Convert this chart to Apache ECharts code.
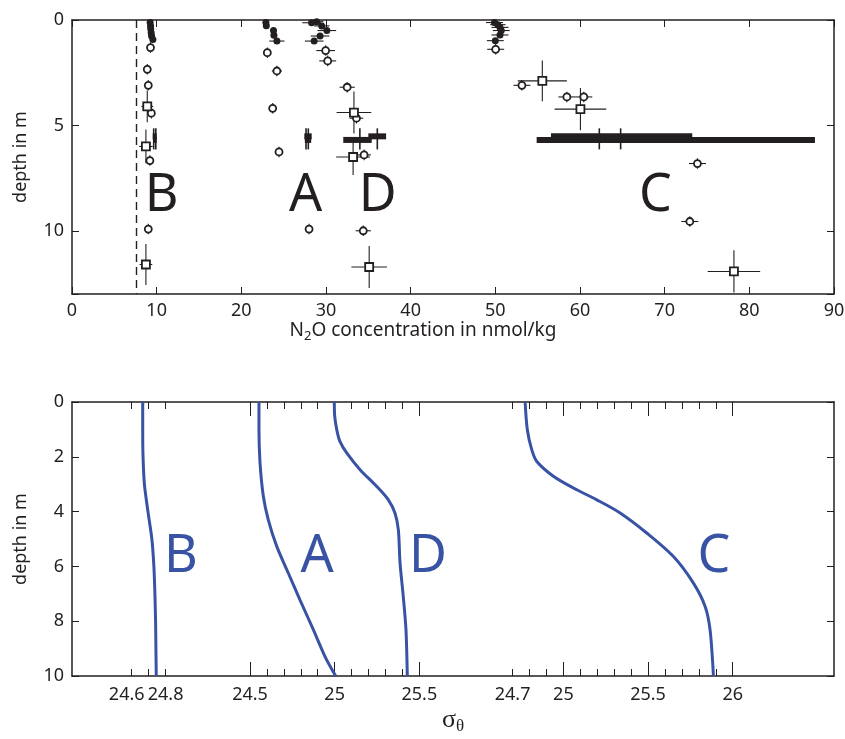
<!DOCTYPE html>
<html><head><meta charset="utf-8">
<script src="https://cdn.jsdelivr.net/npm/echarts@6/dist/echarts.min.js"></script>
<style>html,body{margin:0;padding:0;background:#fff}#c{width:845px;height:739px}</style>
</head><body><div id="c"></div>
<script>
// ================= TOP PANEL DATA (N2O, nmol/kg vs depth m) =================
const detectionLimit = 7.6;
const topXRange = [0,90], topXStep = 10;
const topDepthRange = [0,13], topDepthStep = 5;
// filled dots: surface samples
const dotX     = [9.23,9.28,9.3,9.35,9.4,9.55, 22.9,22.95,23.8,23.85,24.2, 28.3,28.9,29.5,30.1,29.3,28.6, 49.9,50.3,50.55,50.7,50.55,50.0];
const dotDepth = [0.12,0.28,0.43,0.6,0.76,0.93, 0.12,0.27,0.5,0.72,1.0, 0.13,0.08,0.28,0.5,0.76,1.0, 0.12,0.22,0.35,0.5,0.71,0.98];
const dotXErr  = [0.2,0.2,0.2,0.2,0.2,0.2, 0.3,0.3,0.3,0.3,0.9, 1.1,0.8,0.9,1.1,1.1,1.1, 1.0,0.9,1.0,1.0,1.0,1.0];
// open circles
const circX     = [9.27,8.89,9.01,9.37,9.2,9.01, 23.07,24.2,23.7,24.45,28.0, 29.96,30.2, 32.5,33.6,34.5,34.4, 50.04,53.14,58.45,60.45,73.87,72.97];
const circDepth = [1.31,2.34,3.1,4.42,6.67,9.92, 1.55,2.42,4.19,6.26,9.92, 1.45,1.94, 3.19,4.66,6.4,10.0, 1.39,3.1,3.65,3.65,6.81,9.56];
const circXErr  = [0.3,0.3,0.3,0.3,0.3,0.3, 0.3,0.6,0.3,0.3,0.3, 1.1,1.0, 0.9,0.8,0.8,0.9, 1.0,1.0,1.0,1.0,1.0,1.0];
const circYErr  = [0.25,0.25,0.25,0.25,0.25,0.25, 0.25,0.25,0.25,0.25,0.25, 0.25,0.25, 0.25,0.25,0.25,0.25, 0.25,0.25,0.25,0.25,0.25,0.25];
// open squares
const sqX     = [8.89,8.73,8.73, 33.3,33.2,35.1, 55.55,60.05,78.18];
const sqDepth = [4.1,6.0,11.6, 4.39,6.5,11.72, 2.89,4.23,11.93];
const sqXErr  = [0.7,0.8,0.75, 2.05,2.0,2.1, 2.9,3.05,3.1];
const sqYErr  = [0.75,0.8,0.97, 1.0,0.85,1.0, 0.97,1.0,1.0];
// continuous-measurement range bars
const barX1    = [9.53,9.6, 27.44,27.5, 35.0,32.04, 56.57,54.88];
const barX2    = [10.0,10.0, 28.31,28.25, 37.1,35.4, 73.26,87.75];
const barDepth = [5.52,5.69, 5.52,5.69, 5.52,5.69, 5.52,5.69];
const barMark  = [9.65,9.9, 27.64,27.91, 36.06,34.0, 64.8,62.28];
const barMarkDepth = 5.64, barMarkHalf = 0.5;
// station letters (top)
const stationNames = ['B','A','D','C'];
const topLetterX = [10.6,27.6,36.1,68.9];
const topLetterDepth = [8.35,8.35,8.35,8.35];

// ================= BOTTOM PANEL DATA (sigma-theta profiles) =================
const bottomDepthRange = [0,10], bottomDepthStep = 2;
const depthB = [0,1,2,3,4,5,6,7,8,9,10];
const sigmaB = [24.665,24.665,24.667,24.675,24.696,24.719,24.731,24.737,24.741,24.743,24.745];
const depthA = [0,1.0,2.2,3.45,4.3,5.27,6.24,7.22,8.31,9.29,10];
const sigmaA = [24.553,24.553,24.559,24.579,24.608,24.658,24.726,24.795,24.874,24.943,25.006];
const depthD = [0,0.5,1.0,1.44,1.86,2.47,3.08,3.57,4.05,4.66,5.87,7.09,8.3,10];
const sigmaD = [24.998,25.0,25.012,25.031,25.071,25.15,25.248,25.317,25.356,25.376,25.386,25.405,25.421,25.429];
const depthC = [0,1.01,1.74,2.17,2.71,3.14,3.57,4.05,4.78,5.64,6.61,7.46,8.31,10];
const sigmaC = [24.774,24.787,24.813,24.843,24.941,25.059,25.197,25.335,25.492,25.65,25.768,25.837,25.866,25.886];
// sigma axes (three separate scales)
const axB_range = [24.6,24.8], axB_labels = [24.6,24.8];
const axAD_range = [24.5,25.5], axAD_labels = [24.5,25,25.5];
const axC_range = [24.7,26], axC_majorRange = [25,26], axC_labels = [24.7,25,25.5,26];
const minorStep = 0.1, majorStep = 0.5;

// ================= STYLE =================
const FONT = 'Noto Sans';
const INK = '#231f20';
const BLUE = '#3953a4';
const FS = 18;

const zip = (...a) => a[0].map((_, i) => a.map(arr => arr[i]));
const r1 = v => Math.round(v * 10) / 10;
const inTick = (len) => ({show:true, inside:true, length:len, lineStyle:{color:INK, width:1}});
const noLine = {show:false, onZero:false};
const frameLine = {show:true, onZero:false, lineStyle:{color:INK, width:1.5}};

function frameX(grid, pos, extra) {
  return Object.assign({
    type:'value', gridIndex:grid, position:pos, min:0, max:1,
    axisLine:frameLine,
    axisTick:{show:false}, axisLabel:{show:false}, splitLine:{show:false}
  }, extra || {});
}
function tickX(grid, pos, range, step, len, labels) {
  return {
    type:'value', gridIndex:grid, position:pos, min:range[0], max:range[1], interval:step,
    axisLine:noLine,
    axisTick:inTick(len),
    axisLabel: labels ? {show:true, fontFamily:FONT, fontSize:FS, color:INK, margin:10, showMinLabel:true, showMaxLabel:true,
      formatter: v => {
        const q = r1(v);
        if (!labels.some(l => Math.abs(l - q) < 1e-6)) return '';
        return (q === 24.6) ? '{l|24.6}' : String(q);
      },
      rich:{l:{fontFamily:FONT, fontSize:FS, color:INK, padding:[0,10,0,0]}}} : {show:false},
    splitLine:{show:false}
  };
}
function hiddenY(grid) {
  return {type:'value', gridIndex:grid, min:0, max:10, inverse:true, show:false, axisLine:noLine, splitLine:{show:false}};
}

function errRender(params, api) {
  const x = api.value(0), y = api.value(1), xe = api.value(2), ye = api.value(3);
  const st = {stroke:INK, lineWidth:1.1};
  const ch = [];
  if (xe > 0) { const a = api.coord([x-xe, y]), b = api.coord([x+xe, y]);
    ch.push({type:'line', shape:{x1:a[0], y1:a[1], x2:b[0], y2:b[1]}, style:st}); }
  if (ye > 0) { const a = api.coord([x, y-ye]), b = api.coord([x, y+ye]);
    ch.push({type:'line', shape:{x1:a[0], y1:a[1], x2:b[0], y2:b[1]}, style:st}); }
  return {type:'group', children:ch};
}
function barRender(params, api) {
  const x1 = api.value(0), x2 = api.value(1), d = api.value(2), m = api.value(3);
  const a = api.coord([x1, d]), b = api.coord([x2, d]);
  const t1 = api.coord([m, barMarkDepth - barMarkHalf]), t2 = api.coord([m, barMarkDepth + barMarkHalf]);
  return {type:'group', children:[
    {type:'line', shape:{x1:a[0], y1:a[1], x2:b[0], y2:b[1]}, style:{stroke:INK, lineWidth:6}},
    {type:'line', shape:{x1:t1[0], y1:t1[1], x2:t2[0], y2:t2[1]}, style:{stroke:INK, lineWidth:1.6}}
  ]};
}

const grids = [
  {left:72, top:20, width:762, height:274, outerBoundsMode:'none'},          // 0 top
  {left:72, top:402, width:762, height:274, outerBoundsMode:'none'},         // 1 bottom frame
  {left:131.7, top:402, width:33.87, height:274, outerBoundsMode:'none'},    // 2 B axis
  {left:250, top:402, width:169.33, height:274, outerBoundsMode:'none'},     // 3 A/D axis
  {left:512.6, top:402, width:220.13, height:274, outerBoundsMode:'none'},   // 4 C axis
  {left:563.4, top:402, width:169.33, height:274, outerBoundsMode:'none'}    // 5 C major ticks
];

const xAxes = [
  { // 0 top panel bottom
    type:'value', gridIndex:0, position:'bottom', min:topXRange[0], max:topXRange[1], interval:topXStep,
    axisLine:frameLine,
    axisTick:inTick(7),
    axisLabel:{show:true, fontFamily:FONT, fontSize:FS, color:INK, margin:8},
    splitLine:{show:false},
    name:'N{s|2}O concentration in nmol/kg', nameLocation:'middle', nameGap:19,
    nameTextStyle:{fontFamily:FONT, fontSize:19, color:INK, padding:[0,60,0,0],
      rich:{s:{fontFamily:FONT, fontSize:13, color:INK, verticalAlign:'bottom', padding:[11,0,0,0]}}}
  },
  { // 1 top panel top
    type:'value', gridIndex:0, position:'top', min:topXRange[0], max:topXRange[1], interval:topXStep,
    axisLine:frameLine,
    axisTick:inTick(7),
    axisLabel:{show:false}, splitLine:{show:false}
  },
  frameX(1, 'bottom', {name:'σ{s|θ}', nameLocation:'middle', nameGap:30,
    nameTextStyle:{fontFamily:'Liberation Serif', fontSize:26, color:INK,
      rich:{s:{fontFamily:'Liberation Serif', fontSize:17, color:INK, verticalAlign:'bottom', padding:[12,0,0,0]}}}}), // 2
  frameX(1, 'top'),                                                          // 3
  tickX(2, 'bottom', axB_range, minorStep, 7, axB_labels),                   // 4
  tickX(2, 'top', axB_range, minorStep, 7, null),                            // 5
  tickX(3, 'bottom', axAD_range, minorStep, 7, axAD_labels),                 // 6
  tickX(3, 'bottom', axAD_range, majorStep, 14, null),                       // 7
  tickX(3, 'top', axAD_range, minorStep, 7, null),                           // 8
  tickX(3, 'top', axAD_range, majorStep, 14, null),                          // 9
  tickX(4, 'bottom', axC_range, minorStep, 7, axC_labels),                   // 10
  tickX(4, 'top', axC_range, minorStep, 7, null),                            // 11
  tickX(5, 'bottom', axC_majorRange, majorStep, 14, null),                   // 12
  tickX(5, 'top', axC_majorRange, majorStep, 14, null)                       // 13
];

const yAxes = [
  { // 0 top left
    type:'value', gridIndex:0, position:'left', min:topDepthRange[0], max:topDepthRange[1], interval:topDepthStep, inverse:true,
    axisLine:frameLine,
    axisTick:inTick(7),
    axisLabel:{show:true, fontFamily:FONT, fontSize:FS, color:INK, margin:8,
      formatter: v => (v % topDepthStep === 0 ? String(v) : '')},
    splitLine:{show:false},
    name:'depth in m', nameLocation:'middle', nameRotate:90, nameGap:42,
    nameTextStyle:{fontFamily:FONT, fontSize:FS, color:INK}
  },
  { // 1 top right
    type:'value', gridIndex:0, position:'right', min:topDepthRange[0], max:topDepthRange[1], interval:topDepthStep, inverse:true,
    axisLine:frameLine,
    axisTick:inTick(7),
    axisLabel:{show:false}, splitLine:{show:false}
  },
  { // 2 bottom left
    type:'value', gridIndex:1, position:'left', min:bottomDepthRange[0], max:bottomDepthRange[1], interval:bottomDepthStep, inverse:true,
    axisLine:frameLine,
    axisTick:inTick(7),
    axisLabel:{show:true, fontFamily:FONT, fontSize:FS, color:INK, margin:8},
    splitLine:{show:false},
    name:'depth in m', nameLocation:'middle', nameRotate:90, nameGap:42,
    nameTextStyle:{fontFamily:FONT, fontSize:FS, color:INK}
  },
  { // 3 bottom right
    type:'value', gridIndex:1, position:'right', min:bottomDepthRange[0], max:bottomDepthRange[1], interval:bottomDepthStep, inverse:true,
    axisLine:frameLine,
    axisTick:inTick(7),
    axisLabel:{show:false}, splitLine:{show:false}
  },
  hiddenY(2), hiddenY(3), hiddenY(4), hiddenY(5)
];

const profileLine = (name, xi, yi, sig, dep) => ({
  type:'line', name, xAxisIndex:xi, yAxisIndex:yi, data:zip(sig, dep),
  showSymbol:false, symbol:'none', smooth:0.3, clip:false, z:5,
  lineStyle:{color:BLUE, width:3}, silent:true
});

const option = {
  animation:false,
  backgroundColor:'#fff',
  grid:grids, xAxis:xAxes, yAxis:yAxes,
  series:[
    // error bars
    {type:'custom', xAxisIndex:0, yAxisIndex:0, renderItem:errRender, silent:true, z:2,
      data:zip(sqX, sqDepth, sqXErr, sqYErr)},
    {type:'custom', xAxisIndex:0, yAxisIndex:0, renderItem:errRender, silent:true, z:2,
      data:zip(circX, circDepth, circXErr, circYErr)},
    {type:'custom', xAxisIndex:0, yAxisIndex:0, renderItem:errRender, silent:true, z:2,
      data:zip(dotX, dotDepth, dotXErr, dotXErr.map(() => 0))},
    // range bars
    {type:'custom', xAxisIndex:0, yAxisIndex:0, renderItem:barRender, silent:true, z:3,
      data:zip(barX1, barX2, barDepth, barMark)},
    // markers
    {type:'scatter', xAxisIndex:0, yAxisIndex:0, symbol:'circle', symbolSize:7, z:4, silent:true,
      itemStyle:{color:INK, opacity:1}, data:zip(dotX, dotDepth),
      markLine:{symbol:'none', silent:true, label:{show:false}, animation:false,
        lineStyle:{type:[8,5], color:INK, width:1.4}, data:[{xAxis:detectionLimit}]}},
    {type:'scatter', xAxisIndex:0, yAxisIndex:0, symbol:'circle', symbolSize:7, z:4, silent:true,
      itemStyle:{color:'#fff', borderColor:INK, borderWidth:1.8, opacity:1}, data:zip(circX, circDepth)},
    {type:'scatter', xAxisIndex:0, yAxisIndex:0, symbol:'rect', symbolSize:8, z:4, silent:true,
      itemStyle:{color:'#fff', borderColor:INK, borderWidth:1.8, opacity:1}, data:zip(sqX, sqDepth)},
    // station letters (top)
    {type:'scatter', xAxisIndex:0, yAxisIndex:0, symbolSize:0, silent:true, z:6,
      itemStyle:{opacity:1},
      data:stationNames.map((n, i) => ({name:n, value:[topLetterX[i], topLetterDepth[i]]})),
      label:{show:true, position:'inside', formatter:'{b}', fontFamily:FONT, fontSize:52, color:INK, opacity:1}},
    // profiles
    profileLine('B', 4, 4, sigmaB, depthB),
    profileLine('A', 6, 5, sigmaA, depthA),
    profileLine('D', 6, 5, sigmaD, depthD),
    profileLine('C', 10, 6, sigmaC, depthC)
  ],
  graphic:[
    {type:'text', x:181, y:557, silent:true, style:{text:'B', fill:BLUE, fontFamily:FONT, fontSize:52, align:'center', verticalAlign:'middle'}},
    {type:'text', x:317, y:557, silent:true, style:{text:'A', fill:BLUE, fontFamily:FONT, fontSize:52, align:'center', verticalAlign:'middle'}},
    {type:'text', x:428, y:557, silent:true, style:{text:'D', fill:BLUE, fontFamily:FONT, fontSize:52, align:'center', verticalAlign:'middle'}},
    {type:'text', x:714, y:557, silent:true, style:{text:'C', fill:BLUE, fontFamily:FONT, fontSize:52, align:'center', verticalAlign:'middle'}}
  ]
};

const chart = echarts.init(document.getElementById('c'));
chart.setOption(option);
</script>
</body></html>
